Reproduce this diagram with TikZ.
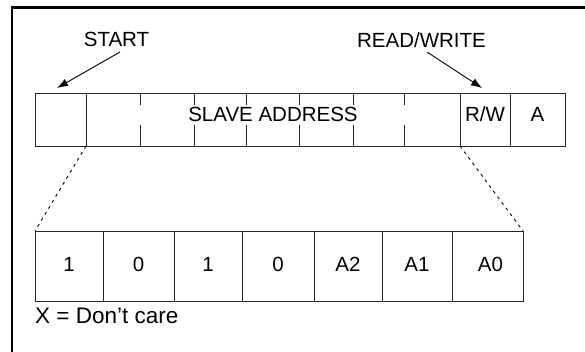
\documentclass[tikz,border=0pt]{standalone}
\usepackage{fontspec}
\setmainfont{Liberation Sans}
\usetikzlibrary{arrows.meta}
\begin{document}
\begin{tikzpicture}[x=1pt,y=-1pt,
  cell/.style={draw=black!85, line width=0.9pt, inner sep=0pt, outer sep=0pt, anchor=north west},
  lbl/.style={font=\fontsize{20.5}{24}\selectfont, inner sep=0pt, text=black},
  frameline/.style={line width=2.2pt},
  tick/.style={draw=black!85, line width=0.9pt},
  arr/.style={line width=0.9pt, -{Latex[length=11pt,width=8pt]}},
  dots/.style={line width=0.9pt, dash pattern=on 3pt off 4pt}]
\useasboundingbox (0,0) rectangle (585,352);
\draw[frameline] (12,353) -- (12,7.5) -- (586,7.5);
% top row
\node[cell, minimum width=51pt, minimum height=53pt] (start) at (35,93) {};
\node[cell, minimum width=374pt, minimum height=53pt] (addr) at (86,93) {};
\node[cell, minimum width=50pt, minimum height=53pt] (rw) at (460,93) {};
\node[cell, minimum width=55pt, minimum height=53pt] (ack) at (510,93) {};
\foreach \x in {140,194,246,299,353,404}{
  \draw[tick] (\x,93) -- (\x,105);
  \draw[tick] (\x,125) -- (\x,146);
}
\node[lbl] (sal) at (273,114) {SLAVE ADDRESS};
\node[lbl] (rwl) at ([yshift=5.5pt]rw.center) {R/W};
\node[lbl] (ackl) at ([yshift=5.5pt]ack.center) {A};
% labels and arrows
\node[lbl] (startl) at (116.5,39.5) {START};
\node[lbl] (rwtl) at (421.5,40.5) {READ/WRITE};
\coordinate (sta) at (120,52);
\coordinate (stb) at (57,88);
\coordinate (rwa) at (427,52);
\coordinate (rwb) at (482,88);
\draw[arr] (sta) -- (stb);
\draw[arr] (rwa) -- (rwb);
% bottom row
\node[cell, minimum width=68pt, minimum height=70pt] (b1) at (35,231) {};
\node[cell, minimum width=71pt, minimum height=70pt] (b2) at (103,231) {};
\node[cell, minimum width=68pt, minimum height=70pt] (b3) at (174,231) {};
\node[cell, minimum width=72pt, minimum height=70pt] (b4) at (242,231) {};
\node[cell, minimum width=68pt, minimum height=70pt] (b5) at (314,231) {};
\node[cell, minimum width=70pt, minimum height=70pt] (b6) at (382,231) {};
\node[cell, minimum width=71pt, minimum height=70pt] (b7) at (452,231) {};
\node[lbl] (l1) at ([yshift=1.5pt]b1.center) {1};
\node[lbl] (l2) at ([yshift=1.5pt]b2.center) {0};
\node[lbl] (l3) at ([yshift=1.5pt]b3.center) {1};
\node[lbl] (l4) at ([yshift=1.5pt]b4.center) {0};
\node[lbl] (l5) at ([yshift=1.5pt]b5.center) {A2};
\node[lbl] (l6) at ([yshift=1.5pt]b6.center) {A1};
\node[lbl] (l7) at ([yshift=1.5pt,xshift=3pt]b7.center) {A0};
% dashed expansion lines
\draw[dots] (addr.south west) -- (b1.north west);
\draw[dots] (rw.south west) -- (b7.north east);
\node[lbl, anchor=base west, font=\fontsize{22.5}{26}\selectfont] (dc) at (35,323.3) {X = Don’t care};
\end{tikzpicture}
\end{document}
